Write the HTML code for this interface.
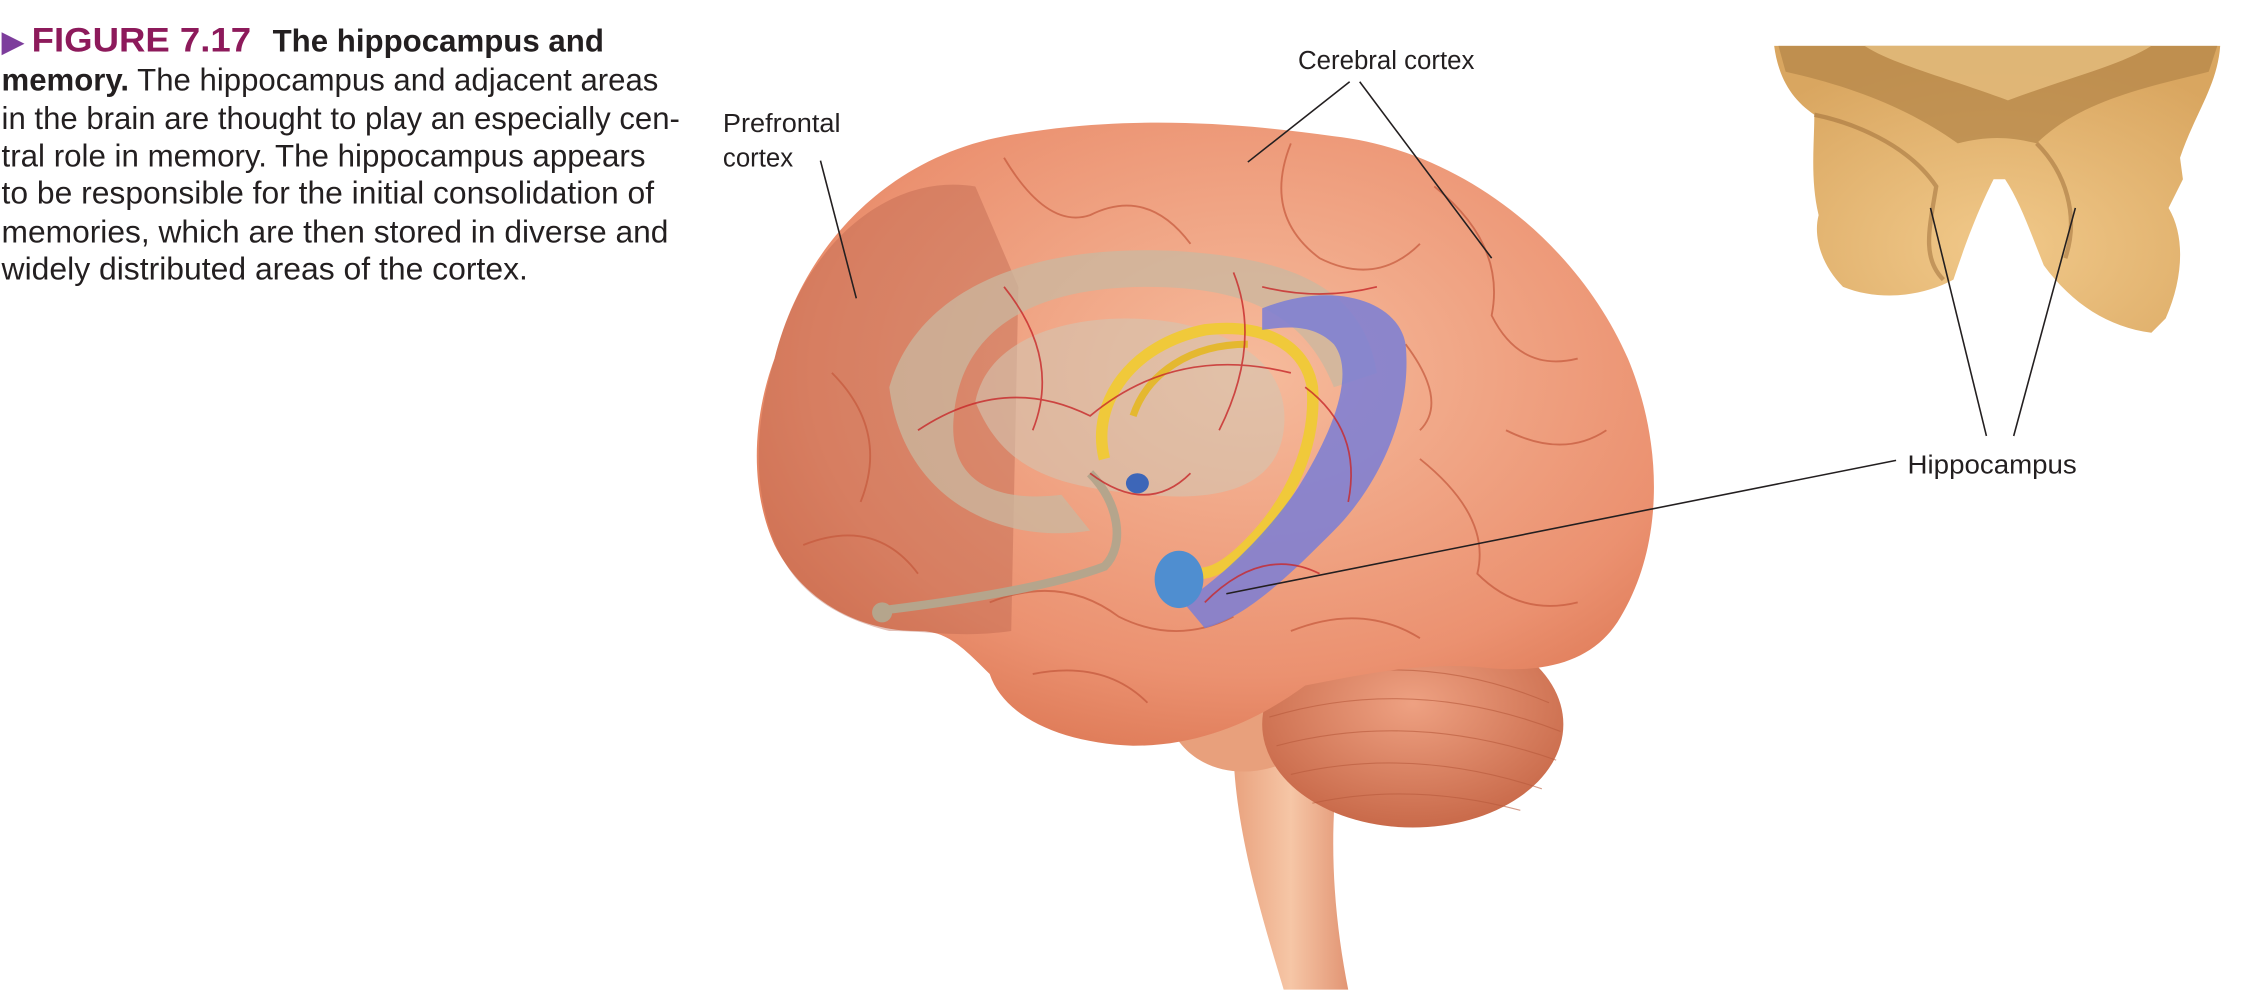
<!DOCTYPE html>
<html><head><meta charset="utf-8"><style>
html,body{margin:0;padding:0;background:#fff;width:2249px;height:990px;overflow:hidden}
svg{display:block}
</style></head><body>
<svg width="2249" height="990" viewBox="0 0 1568 690.3" xmlns="http://www.w3.org/2000/svg">
<defs>
<radialGradient id="br" cx="0.55" cy="0.4" r="0.7">
<stop offset="0" stop-color="#f6bb9c"/><stop offset="0.7" stop-color="#eb9170"/><stop offset="1" stop-color="#d9714d"/>
</radialGradient>
<radialGradient id="cb" cx="0.5" cy="0.4" r="0.6">
<stop offset="0" stop-color="#eea182"/><stop offset="1" stop-color="#c96a4a"/>
</radialGradient>
<linearGradient id="bs" x1="0" x2="1">
<stop offset="0" stop-color="#e9a27e"/><stop offset="0.5" stop-color="#f6c6a6"/><stop offset="1" stop-color="#e29574"/>
</linearGradient>
<radialGradient id="ph" cx="0.5" cy="0.7" r="0.7">
<stop offset="0" stop-color="#f1c98a"/><stop offset="1" stop-color="#d9a660"/>
</radialGradient>
</defs>

<!-- caption -->
<g font-family="'Liberation Sans',sans-serif" font-size="22" fill="#231f20" lengthAdjust="spacingAndGlyphs">
<text x="1" y="36" font-size="21" fill="#7d3d9c">▶</text>
<text x="22" y="36" font-weight="bold" fill="#8d1a5b" font-size="24" textLength="153" lengthAdjust="spacingAndGlyphs">FIGURE 7.17</text>
<text x="190" y="36" font-weight="bold" textLength="231" lengthAdjust="spacingAndGlyphs">The hippocampus and</text>
<text x="1" y="63" textLength="458" lengthAdjust="spacingAndGlyphs"><tspan font-weight="bold">memory.</tspan> The hippocampus and adjacent areas</text>
<text x="1" y="90" textLength="473" lengthAdjust="spacingAndGlyphs">in the brain are thought to play an especially cen-</text>
<text x="1" y="116" textLength="449" lengthAdjust="spacingAndGlyphs">tral role in memory. The hippocampus appears</text>
<text x="1" y="142" textLength="455" lengthAdjust="spacingAndGlyphs">to be responsible for the initial consolidation of</text>
<text x="1" y="169" textLength="465" lengthAdjust="spacingAndGlyphs">memories, which are then stored in diverse and</text>
<text x="1" y="195" textLength="367" lengthAdjust="spacingAndGlyphs">widely distributed areas of the cortex.</text>
</g>

<!-- brainstem -->
<path d="M860,510 C858,570 880,640 895,690 L940,690 C930,640 925,580 935,520 Z" fill="url(#bs)"/>
<path d="M815,505 C830,540 870,545 900,530 L880,495 Z" fill="#e8a07c"/>
<!-- cerebellum -->
<ellipse cx="985" cy="505" rx="105" ry="72" fill="url(#cb)"/>
<g stroke="#b85a3c" stroke-width="0.8" fill="none" opacity="0.6">
<path d="M890,480 Q985,450 1080,490"/><path d="M885,500 Q985,470 1088,510"/><path d="M890,520 Q985,495 1085,530"/><path d="M900,540 Q985,520 1075,550"/><path d="M915,560 Q985,545 1060,565"/>
</g>
<!-- cerebrum -->
<path d="M540,250 C560,170 620,110 700,95 C780,80 860,85 930,95 C1020,105 1100,170 1135,250 C1160,310 1160,380 1130,430 C1110,465 1070,470 1030,465 C990,462 950,470 910,478 C880,500 840,520 790,520 C740,518 700,500 690,470 C670,450 660,440 640,440 C600,440 560,420 540,380 C522,340 525,290 540,250 Z" fill="url(#br)"/>
<!-- prefrontal darker -->
<path d="M540,250 C560,170 620,120 680,130 L710,200 L705,440 C670,445 650,440 620,440 C580,430 550,410 537,370 C524,330 528,290 540,250 Z" fill="#b8624a" opacity="0.4"/>
<!-- sulci -->
<g stroke="#c4583c" stroke-width="1.3" fill="none" opacity="0.7">
<path d="M700,110 Q730,160 760,150 Q800,130 830,170"/><path d="M900,100 Q880,150 920,180 Q960,200 990,170"/>
<path d="M1000,130 Q1050,170 1040,220 Q1060,260 1100,250"/><path d="M1050,300 Q1090,320 1120,300"/>
<path d="M990,320 Q1040,360 1030,400 Q1060,430 1100,420"/><path d="M690,420 Q740,400 780,430 Q820,450 860,430"/>
<path d="M720,470 Q770,460 800,490"/><path d="M900,440 Q950,420 990,445"/><path d="M580,260 Q620,300 600,350"/>
<path d="M560,380 Q610,360 640,400"/><path d="M980,240 Q1010,280 990,300"/>
</g>
<!-- limbic gray overlay -->
<path d="M620,270 C640,200 720,170 820,175 C900,180 950,200 960,260 L930,270 C910,220 870,200 800,200 C720,200 670,230 665,290 C660,340 700,350 740,345 L760,370 C700,380 630,350 620,270 Z" fill="#c9b8a0" opacity="0.75"/>
<path d="M680,280 C690,230 760,215 820,225 C870,235 900,260 895,300 C890,340 850,350 800,345 C740,340 700,330 680,280 Z" fill="#d4c4b0" opacity="0.6"/>
<path d="M760,330 C780,350 785,380 770,395 C730,410 660,420 620,425" stroke="#b5a58c" stroke-width="6" fill="none"/>
<circle cx="615" cy="427" r="7" fill="#b5a58c"/>
<!-- yellow fornix -->
<path d="M770,320 C760,280 790,240 840,230 C880,225 910,240 915,270 C918,310 900,350 870,380 C855,395 845,400 835,400" stroke="#f0c93a" stroke-width="8" fill="none"/>
<path d="M790,290 C800,260 830,240 870,240" stroke="#e4b830" stroke-width="5" fill="none"/>
<ellipse cx="793" cy="337" rx="8" ry="7" fill="#3d66b8"/>
<!-- blue hippocampus -->
<path d="M880,215 C930,195 975,210 980,240 C985,290 960,340 930,370 C900,400 870,430 840,438 L825,420 C855,400 885,370 905,340 C930,300 945,260 930,240 C915,225 895,228 880,230 Z" fill="#7a7ed6" opacity="0.85"/>
<ellipse cx="822" cy="404" rx="17" ry="20" fill="#4f8ed0"/>
<!-- red vessels -->
<g stroke="#c8282a" stroke-width="1.2" fill="none" opacity="0.8">
<path d="M640,300 Q700,260 760,290 Q820,240 900,260"/><path d="M700,200 Q740,250 720,300"/>
<path d="M860,190 Q880,240 850,300"/><path d="M910,270 Q950,300 940,350"/><path d="M840,420 Q880,380 920,400"/>
<path d="M760,330 Q800,360 830,330"/><path d="M880,200 Q920,210 960,200"/>
</g>

<!-- photo -->
<path d="M1237,32 L1548,32 C1546,60 1530,80 1520,110 L1522,125 L1512,145 C1524,165 1522,195 1510,222 L1500,232 C1470,228 1445,212 1425,185 C1415,160 1408,140 1398,125 L1390,125 C1380,145 1372,165 1362,195 C1340,207 1310,210 1285,200 C1270,185 1264,165 1268,150 C1262,125 1265,100 1265,80 C1250,70 1240,55 1237,32 Z" fill="url(#ph)"/>
<path d="M1240,32 L1546,32 L1540,50 C1500,60 1450,70 1420,100 C1400,95 1385,95 1365,100 C1330,75 1290,60 1245,50 Z" fill="#b5874a" opacity="0.75"/>
<path d="M1300,32 L1500,32 C1480,45 1440,55 1400,70 C1360,55 1320,45 1300,32 Z" fill="#e7bf80" opacity="0.8"/>
<path d="M1265,80 C1290,85 1330,100 1350,130 C1345,160 1340,180 1355,195" stroke="#9a6a35" stroke-width="3" fill="none" opacity="0.5"/>
<path d="M1420,100 C1440,120 1450,150 1440,180" stroke="#9a6a35" stroke-width="3" fill="none" opacity="0.5"/>

<!-- leader lines -->
<g stroke="#231f20" stroke-width="1.1" fill="none">
<line x1="941" y1="57" x2="870" y2="113"/><line x1="948" y1="57" x2="1040" y2="180"/>
<line x1="572" y1="112" x2="597" y2="208"/>
<line x1="1322" y1="321" x2="855" y2="414"/>
<line x1="1385" y1="304" x2="1346" y2="145"/><line x1="1404" y1="304" x2="1447" y2="145"/>
</g>
<g font-family="'Liberation Sans',sans-serif" font-size="18" fill="#231f20">
<text x="905" y="48" textLength="123" lengthAdjust="spacingAndGlyphs">Cerebral cortex</text>
<text x="504" y="92" textLength="82" lengthAdjust="spacingAndGlyphs">Prefrontal</text>
<text x="504" y="116">cortex</text>
<text x="1330" y="330" textLength="118" lengthAdjust="spacingAndGlyphs">Hippocampus</text>
</g>
</svg>
</body></html>
